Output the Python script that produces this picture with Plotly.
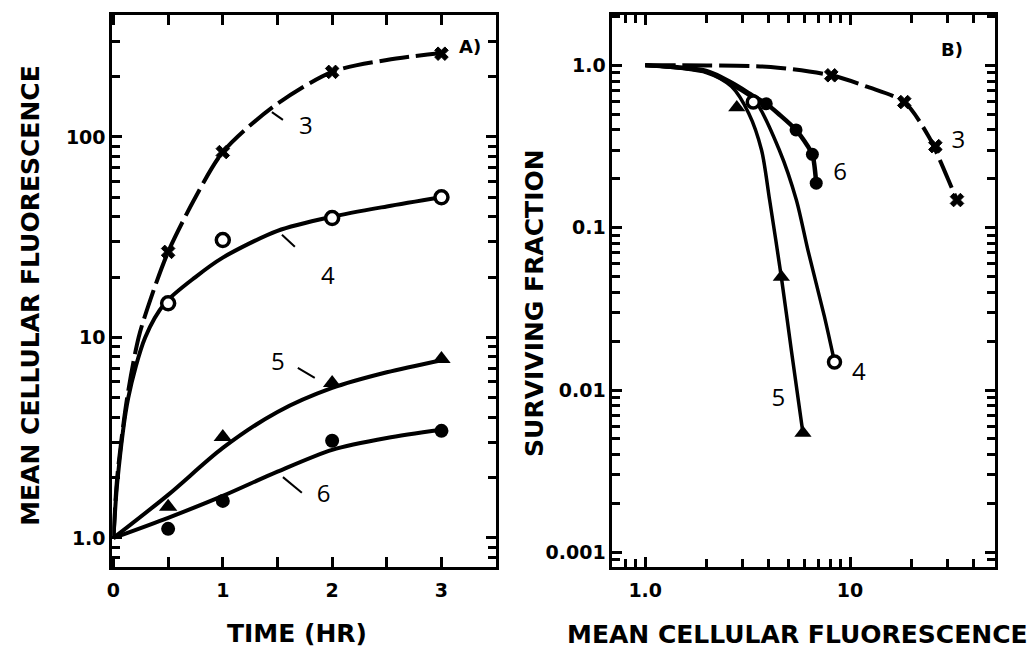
import plotly.graph_objects as go

# ---------------- Panel A data (time course) ----------------
t_pts = [0.5, 1.0, 2.0, 3.0]
a3_pts = [26.7, 84, 211, 260]
a4_pts = [14.8, 30.6, 39.4, 50]
a5_pts = [1.43, 3.19, 5.93, 7.8]
a6_pts = [1.11, 1.53, 3.05, 3.42]

a3_curve_t = [0, 0.034, 0.125, 0.23, 0.337, 0.5, 0.75, 1.0, 1.45, 2.0, 2.5, 3.0]
a3_curve_y = [1, 2, 5, 10, 15.4, 26.7, 50, 84, 140, 211, 242, 262]
a4_curve_t = [0, 0.035, 0.135, 0.29, 0.47, 0.75, 1.0, 1.5, 2.0, 2.5, 3.0]
a4_curve_y = [1, 1.9, 5, 10, 14.8, 20, 25, 34, 40, 45, 50]
a5_curve_t = [0, 0.5, 1.0, 1.5, 2.0, 2.5, 3.0]
a5_curve_y = [1, 1.64, 2.81, 4.25, 5.6, 6.7, 7.7]
a6_curve_t = [0, 0.5, 1.0, 1.5, 2.0, 2.5, 3.0]
a6_curve_y = [1, 1.26, 1.62, 2.14, 2.75, 3.15, 3.46]

# curve labels and leader ticks (panel A)
a_labels = ["3", "4", "5", "6"]
a_label_t = [1.76, 1.96, 1.504, 1.923]
a_label_y = [111, 19.8, 7.38, 1.62]
a_leader_t = [[1.449, 1.55], [1.541, 1.659], [1.686, 1.841], [1.55, 1.723]]
a_leader_y = [[133, 121.6], [32.5, 28.3], [7.05, 6.28], [2.01, 1.68]]

# ---------------- Panel B data (survival) ----------------
b3_pts_x = [8.1, 18.4, 26.1, 33.3]
b3_pts_y = [0.868, 0.594, 0.318, 0.148]
b4_pts_x = [3.37, 8.4]
b4_pts_y = [0.594, 0.0149]
b5_pts_x = [2.8, 4.62, 5.89]
b5_pts_y = [0.55, 0.0496, 0.00544]
b6_pts_x = [3.9, 5.45, 6.55, 6.84]
b6_pts_y = [0.58, 0.40, 0.283, 0.188]

b3_curve_x = [1.0, 2.0, 4.1, 8.1, 12.2, 18.4, 24.3, 27.5, 31.5, 33.3]
b3_curve_y = [1.0, 0.998, 0.976, 0.868, 0.736, 0.594, 0.362, 0.26, 0.174, 0.148]
b4_curve_x = [1.0, 2.0, 2.64, 3.42, 4.52, 5.47, 6.23, 7.5, 8.4]
b4_curve_y = [1.0, 0.91, 0.76, 0.61, 0.30, 0.148, 0.0727, 0.0283, 0.0149]
b5_curve_x = [1.0, 2.0, 2.64, 3.2, 3.7, 4.05, 4.62, 5.17, 5.89]
b5_curve_y = [1.0, 0.90, 0.74, 0.507, 0.30, 0.148, 0.0496, 0.0176, 0.00544]
b6_curve_x = [1.0, 2.0, 2.64, 3.42, 3.9, 4.5, 5.45, 6.2, 6.55, 6.84]
b6_curve_y = [1.0, 0.92, 0.78, 0.64, 0.58, 0.50, 0.40, 0.32, 0.283, 0.188]

b_labels = ["3", "6", "4", "5"]
b_label_x = [33.8, 8.94, 11.06, 4.47]
b_label_y = [0.336, 0.213, 0.01254, 0.00867]

# ---------------- Axis ticks ----------------
a_xtick_vals = [0, 1, 2, 3]
a_xtick_text = ["0", "1", "2", "3"]
a_xminor = [0.5, 1.5, 2.5]
a_ytick_vals = [1, 10, 100]
a_ytick_text = ["1.0", "10", "100"]
a_yminor = [0.8, 0.9, 2, 3, 4, 5, 6, 7, 8, 9, 20, 30, 40, 50, 60, 70, 80, 90, 200, 300]

b_xtick_vals = [1, 10]
b_xtick_text = ["1.0", "10"]
b_xminor = [0.8, 0.9, 2, 3, 4, 5, 6, 7, 8, 9, 20, 30, 40]
b_ytick_vals = [0.001, 0.01, 0.1, 1]
b_ytick_text = ["0.001", "0.01", "0.1", "1.0"]
b_yminor = [0.0009, 0.002, 0.003, 0.004, 0.005, 0.006, 0.007, 0.008, 0.009,
            0.02, 0.03, 0.04, 0.05, 0.06, 0.07, 0.08, 0.09,
            0.2, 0.3, 0.4, 0.5, 0.6, 0.7, 0.8, 0.9, 2]

BLACK = "#000000"
LW = 4
DASH = "30px,7px"
W, H = 1032, 650

fig = go.Figure()

def curve(x, y, xa, ya, dash="solid", width=LW):
    fig.add_trace(go.Scatter(x=x, y=y, mode="lines", xaxis=xa, yaxis=ya,
                             line=dict(color=BLACK, width=width, dash=dash,
                                       shape="spline", smoothing=0.8),
                             showlegend=False, hoverinfo="skip"))

def pts(x, y, xa, ya, symbol, size, lw=0):
    fig.add_trace(go.Scatter(x=x, y=y, mode="markers", xaxis=xa, yaxis=ya,
                             marker=dict(symbol=symbol, size=size, color=BLACK,
                                         line=dict(color=BLACK, width=lw)),
                             showlegend=False, hoverinfo="skip"))

def open_pts(x, y, xa, ya, size):
    fig.add_trace(go.Scatter(x=x, y=y, mode="markers", xaxis=xa, yaxis=ya,
                             marker=dict(symbol="circle", size=size, color="white",
                                         line=dict(color=BLACK, width=3.5)),
                             showlegend=False, hoverinfo="skip"))

# Panel A
curve(a3_curve_t, a3_curve_y, "x", "y", dash=DASH)
curve(a4_curve_t, a4_curve_y, "x", "y")
curve(a5_curve_t, a5_curve_y, "x", "y")
curve(a6_curve_t, a6_curve_y, "x", "y")
pts(t_pts, a3_pts, "x", "y", "x", 12, 1)
open_pts(t_pts, a4_pts, "x", "y", 13)
pts(t_pts, a5_pts, "x", "y", "triangle-up", 16)
pts(t_pts, a6_pts, "x", "y", "circle", 14)
for lt, ly in zip(a_leader_t, a_leader_y):
    fig.add_trace(go.Scatter(x=lt, y=ly, mode="lines", xaxis="x", yaxis="y",
                             line=dict(color=BLACK, width=2),
                             showlegend=False, hoverinfo="skip"))
fig.add_trace(go.Scatter(x=a_label_t, y=a_label_y, mode="text", text=a_labels,
                         xaxis="x", yaxis="y",
                         textfont=dict(family="Open Sans", size=24, color=BLACK),
                         showlegend=False, hoverinfo="skip"))

# Panel B
curve(b3_curve_x, b3_curve_y, "x2", "y2", dash=DASH)
curve(b4_curve_x, b4_curve_y, "x2", "y2", width=3.5)
curve(b5_curve_x, b5_curve_y, "x2", "y2", width=3.5)
curve(b6_curve_x, b6_curve_y, "x2", "y2", width=4.5)
pts(b3_pts_x, b3_pts_y, "x2", "y2", "x", 12, 1)
open_pts(b4_pts_x, b4_pts_y, "x2", "y2", 12)
pts(b5_pts_x, b5_pts_y, "x2", "y2", "triangle-up", 15)
pts(b6_pts_x, b6_pts_y, "x2", "y2", "circle", 13)
fig.add_trace(go.Scatter(x=b_label_x, y=b_label_y, mode="text", text=b_labels,
                         xaxis="x2", yaxis="y2",
                         textfont=dict(family="Open Sans", size=24, color=BLACK),
                         showlegend=False, hoverinfo="skip"))

tickfont = dict(family="DejaVu Sans", size=19, color=BLACK, weight="bold")

def axis_common():
    return dict(showline=True, linewidth=3, linecolor=BLACK, mirror="allticks",
                ticks="inside", ticklen=10, tickwidth=2.5, tickcolor=BLACK,
                showgrid=False, zeroline=False, tickfont=tickfont)

def minor(vals, ln=8):
    return dict(tickmode="array", tickvals=vals, ticks="inside", ticklen=ln,
                tickwidth=2.5, tickcolor=BLACK, showgrid=False)

ydom = [(H - 567) / H, (H - 15) / H]
fig.update_layout(
    width=W, height=H, autosize=False,
    margin=dict(l=0, r=0, t=0, b=0),
    paper_bgcolor="white", plot_bgcolor="white",
    xaxis=dict(**axis_common(), domain=[107 / W, 493 / W], range=[-0.01, 3.5],
               tickmode="array", tickvals=a_xtick_vals, ticktext=a_xtick_text,
               minor=minor(a_xminor, 10), ticklabelstandoff=4, anchor="y"),
    yaxis=dict(**axis_common(), type="log", domain=ydom, range=[-0.145, 2.608],
               tickmode="array", tickvals=a_ytick_vals, ticktext=a_ytick_text,
               minor=minor(a_yminor), anchor="x"),
    xaxis2=dict(**axis_common(), type="log", domain=[610 / W, 995 / W],
                range=[-0.16, 1.709],
                tickmode="array", tickvals=b_xtick_vals, ticktext=b_xtick_text,
                minor=minor(b_xminor), ticklabelstandoff=4, anchor="y2"),
    yaxis2=dict(**axis_common(), type="log", domain=ydom, range=[-3.09, 0.31],
                tickmode="array", tickvals=b_ytick_vals, ticktext=b_ytick_text,
                minor=minor(b_yminor), anchor="x2"),
)

titlefont = dict(family="DejaVu Sans", size=25, color=BLACK, weight="bold")
annots = [
    dict(text="MEAN CELLULAR FLUORESCENCE", x=25 / W, y=1 - 295 / H, textangle=-90),
    dict(text="TIME (HR)", x=293 / W, y=1 - 633 / H, textangle=0),
    dict(text="SURVIVING FRACTION", x=531 / W, y=1 - 303 / H, textangle=-90),
    dict(text="MEAN CELLULAR FLUORESCENCE", x=796 / W, y=1 - 634 / H, textangle=0),
]
for a in annots:
    fig.add_annotation(xref="paper", yref="paper", showarrow=False,
                       xanchor="center", yanchor="middle", font=titlefont, **a)

panelfont = dict(family="DejaVu Sans", size=18, color=BLACK, weight="bold")
fig.add_annotation(text="A)", xref="paper", yref="paper", x=467 / W, y=1 - 47 / H,
                   xanchor="center", yanchor="middle", showarrow=False, font=panelfont)
fig.add_annotation(text="B)", xref="paper", yref="paper", x=952 / W, y=1 - 49 / H,
                   xanchor="center", yanchor="middle", showarrow=False, font=panelfont)

fig.write_html("out.html",
               config={"displayModeBar": False},
               post_script="document.body.style.margin='0';"
                           "document.body.style.overflow='hidden';")
